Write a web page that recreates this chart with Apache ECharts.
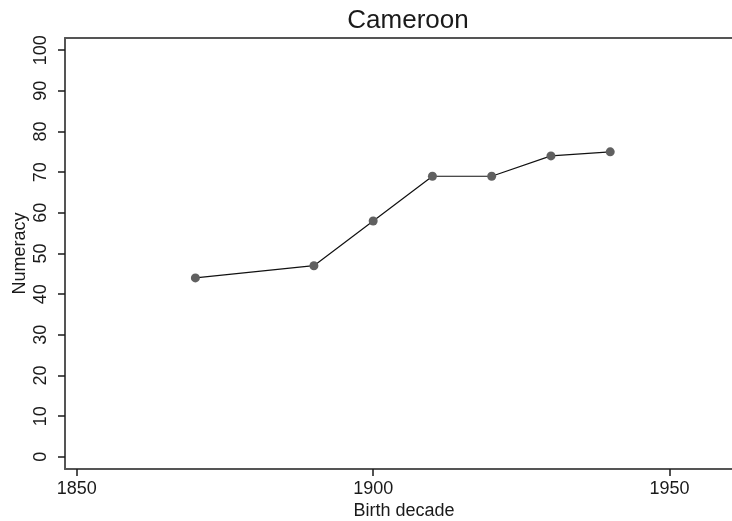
<!DOCTYPE html>
<html>
<head>
<meta charset="utf-8">
<script src="https://cdn.jsdelivr.net/npm/echarts@6/dist/echarts.min.js"></script>
<style>
  html, body { margin: 0; padding: 0; background: #fff; overflow: hidden; }
  #chart { width: 732px; height: 521px; }
</style>
</head>
<body>
<div id="chart"></div>
<script>
// Numeracy by birth decade, Cameroon
const decades = [1870, 1890, 1900, 1910, 1920, 1930, 1940];
const numeracy = [44, 47, 58, 69, 69, 74, 75];
const xTicks = [1850, 1900, 1950];
const yTicks = [0, 10, 20, 30, 40, 50, 60, 70, 80, 90, 100];

const FONT = '"Liberation Sans", Arial, sans-serif';
const INK = '#1a1a1a';
const FRAME = '#555555';
const X_MIN = 1848, X_MAX = 1960.55;

const chart = echarts.init(document.getElementById('chart'), null, { renderer: 'canvas' });

chart.setOption({
  animation: false,
  backgroundColor: '#ffffff',
  title: {
    text: 'Cameroon',
    left: 403,
    top: 3,
    textAlign: 'center',
    textStyle: { fontFamily: FONT, fontSize: 26, fontWeight: 'normal', color: INK }
  },
  grid: {
    left: 65, top: 38, right: 0, bottom: 52,
    containLabel: false,
    outerBoundsMode: 'none',
    show: false
  },
  xAxis: [{
    type: 'value',
    min: X_MIN,
    max: X_MAX,
    name: 'Birth decade',
    nameLocation: 'middle',
    nameGap: 33,
    nameMoveOverlap: false,
    nameTextStyle: { fontFamily: FONT, fontSize: 18, color: INK, padding: [0, 0, 0, 11] },
    axisLine: { show: true, onZero: false, lineStyle: { color: FRAME, width: 2 } },
    axisTick: { show: true, length: 7, lineStyle: { color: INK, width: 1.5 }, customValues: xTicks },
    axisLabel: {
      fontFamily: FONT, fontSize: 18, color: INK, margin: 11, customValues: xTicks,
      formatter: (v) => String(v)
    },
    splitLine: { show: false }
  }, {
    // top edge of the plot frame
    type: 'value',
    position: 'top',
    min: X_MIN,
    max: X_MAX,
    axisLine: { show: true, onZero: false, lineStyle: { color: FRAME, width: 2 } },
    axisTick: { show: false },
    axisLabel: { show: false },
    splitLine: { show: false }
  }],
  yAxis: {
    type: 'value',
    min: -3,
    max: 103,
    name: 'Numeracy',
    nameLocation: 'middle',
    nameGap: 36,
    nameRotate: 90,
    nameMoveOverlap: false,
    nameTextStyle: { fontFamily: FONT, fontSize: 18, color: INK },
    axisLine: { show: true, onZero: false, lineStyle: { color: FRAME, width: 2 } },
    axisTick: { show: true, length: 7, lineStyle: { color: INK, width: 1.5 }, customValues: yTicks },
    axisLabel: {
      fontFamily: FONT, fontSize: 18, color: INK, margin: 15, rotate: 90, customValues: yTicks,
      formatter: (v) => String(v)
    },
    splitLine: { show: false }
  },
  series: [{
    type: 'line',
    xAxisIndex: 0,
    data: decades.map((d, i) => [d, numeracy[i]]),
    symbol: 'circle',
    symbolSize: 9,
    showAllSymbol: true,
    lineStyle: { color: '#111111', width: 1.2 },
    itemStyle: { color: '#606060', borderWidth: 0 },
    z: 3
  }]
});
</script>
</body>
</html>
